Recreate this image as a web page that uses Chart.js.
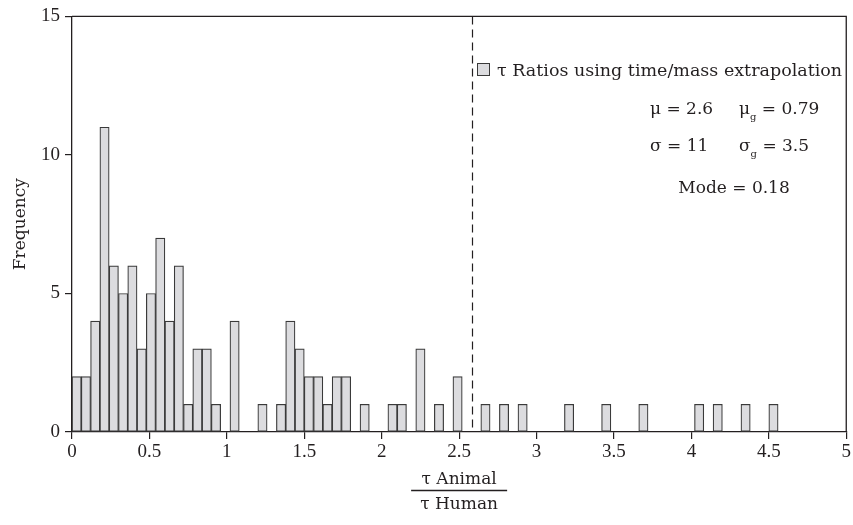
<!DOCTYPE html>
<html>
<head>
<meta charset="utf-8">
<script src="https://cdn.jsdelivr.net/npm/chart.js@4.4.1/dist/chart.umd.min.js"></script>
<style>
  html, body { margin: 0; padding: 0; background: #ffffff; }
  #wrap { width: 853px; height: 525px; }
</style>
</head>
<body>
<div id="wrap"><canvas id="hist" width="853" height="525"></canvas></div>
<script>
/* ===================== DATA ===================== */

// histogram bins start at 0 and are 0.06 wide
const BIN_WIDTH = 0.06;
const binCounts = [
  2, 2, 4, 11, 6, 5, 6, 3, 5, 7, 4, 6, 1, 3, 3, 1, 0, 4, 0, 0,
  1, 0, 1, 4, 3, 2, 2, 1, 2, 2, 0, 1, 0, 0, 1, 1, 0, 3, 0, 1,
  0, 2, 0, 0, 1, 0, 1, 0, 1, 0, 0, 0, 0, 1, 0, 0, 0, 1, 0, 0,
  0, 1, 0, 0, 0, 0, 0, 1, 0, 1, 0, 0, 1, 0, 0, 1,
];

const meanLineX = 2.58;
const legendLabel = "τ Ratios using time/mass extrapolation";
const statsRows = [
  { left: "μ = 2.6", sym: "μ", sub: "g", right: " = 0.79" },
  { left: "σ = 11", sym: "σ", sub: "g", right: " = 3.5" },
];
const modeLabel = "Mode = 0.18";
const xTitleTop = "τ Animal";
const xTitleBottom = "τ Human";

/* ===================== STYLE ===================== */

const TICK_FONT = '"Liberation Serif", serif';
const TEXT_FONT = '"DejaVu Serif", "Liberation Serif", serif';
const INK = "#231f20";
const BAR_FILL = "#dcdcdf";
const BAR_EDGE = "#3a3a3a";

const histData = binCounts
  .map((n, i) => ({ x: (i + 0.5) * BIN_WIDTH, y: n }))
  .filter((p) => p.y > 0);

/* ===================== ANNOTATIONS ===================== */

const annotations = {
  id: "annotations",
  afterDraw(chart) {
    const { ctx, chartArea: a, scales } = chart;
    ctx.save();

    // frame top + right
    ctx.strokeStyle = INK;
    ctx.lineWidth = 1.3;
    ctx.beginPath();
    ctx.moveTo(a.left, a.top);
    ctx.lineTo(a.right, a.top);
    ctx.lineTo(a.right, a.bottom);
    ctx.stroke();

    // mean line
    const mx = Math.round(scales.x.getPixelForValue(meanLineX)) + 0.5;
    ctx.setLineDash([8, 5]);
    ctx.lineWidth = 1.2;
    ctx.beginPath();
    ctx.moveTo(mx, a.top);
    ctx.lineTo(mx, a.bottom);
    ctx.stroke();
    ctx.setLineDash([]);

    // legend
    ctx.fillStyle = BAR_FILL;
    ctx.fillRect(477.5, 63.5, 12, 12);
    ctx.strokeStyle = BAR_EDGE;
    ctx.lineWidth = 1;
    ctx.strokeRect(477.5, 63.5, 12, 12);

    ctx.fillStyle = INK;
    ctx.font = "17.5px " + TEXT_FONT;
    ctx.textBaseline = "alphabetic";
    ctx.textAlign = "left";
    ctx.fillText(legendLabel, 497, 76);

    // stats
    const rowY = [114, 151];
    statsRows.forEach((r, i) => {
      const y = rowY[i];
      ctx.font = "17px " + TEXT_FONT;
      ctx.fillText(r.left, 650, y);
      let x = 739;
      ctx.fillText(r.sym, x, y);
      x += ctx.measureText(r.sym).width;
      ctx.font = "10px " + TEXT_FONT;
      ctx.fillText(r.sub, x, y + 6);
      x += ctx.measureText(r.sub).width;
      ctx.font = "17px " + TEXT_FONT;
      ctx.fillText(r.right, x, y);
    });
    ctx.textAlign = "center";
    ctx.fillText(modeLabel, 734, 193);

    // x axis title as a fraction
    const cx = (a.left + a.right) / 2;
    ctx.fillText(xTitleTop, cx, 484);
    ctx.lineWidth = 1.3;
    ctx.strokeStyle = INK;
    ctx.beginPath();
    ctx.moveTo(cx - 48, 490.5);
    ctx.lineTo(cx + 48, 490.5);
    ctx.stroke();
    ctx.fillText(xTitleBottom, cx, 509);

    ctx.restore();
  },
};

/* ===================== CHART ===================== */

new Chart(document.getElementById("hist"), {
  type: "bar",
  data: {
    datasets: [
      {
        label: legendLabel,
        data: histData,
        backgroundColor: BAR_FILL,
        borderColor: BAR_EDGE,
        borderWidth: 1.2,
        borderSkipped: false,
        barPercentage: 1,
        categoryPercentage: 1,
      },
    ],
  },
  options: {
    responsive: false,
    animation: false,
    devicePixelRatio: 1,
    layout: { padding: { top: 15, right: 6, left: 0, bottom: 0 } },
    plugins: {
      legend: { display: false },
      tooltip: { enabled: false },
    },
    scales: {
      x: {
        type: "linear",
        min: 0,
        max: 5,
        offset: false,
        ticks: {
          stepSize: 0.5,
          color: INK,
          padding: 2,
          maxRotation: 0,
          font: { family: TICK_FONT, size: 19 },
          callback: (v) => String(v),
        },
        grid: {
          offset: false,
          drawOnChartArea: false,
          tickLength: 7,
          color: INK,
          lineWidth: 1.2,
        },
        border: { color: INK, width: 1.3 },
        afterFit: (s) => { s.height = 93; },
      },
      y: {
        min: 0,
        max: 15,
        ticks: {
          stepSize: 5,
          color: INK,
          padding: 5,
          font: { family: TICK_FONT, size: 19 },
        },
        grid: {
          drawOnChartArea: false,
          tickLength: 7,
          color: INK,
          lineWidth: 1.2,
        },
        border: { color: INK, width: 1.3 },
        title: {
          display: true,
          text: "Frequency",
          color: INK,
          font: { family: TEXT_FONT, size: 17 },
          padding: { top: 10, bottom: 0 },
        },
        afterFit: (s) => { s.width = 72; },
      },
    },
  },
  plugins: [annotations],
});
</script>
</body>
</html>
